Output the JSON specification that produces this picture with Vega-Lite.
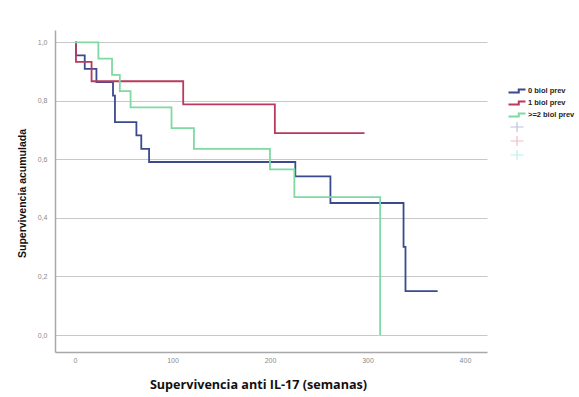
{
  "$schema": "https://vega.github.io/schema/vega-lite/v6.json",
  "width": 432,
  "height": 322,
  "autosize": {"type": "none"},
  "padding": {"left": 55, "top": 30, "right": 92, "bottom": 45},
  "background": "white",
  "config": {
    "view": {"stroke": null},
    "axis": {
      "labelFont": "Liberation Sans",
      "labelFontSize": 7,
      "labelColor": "#8a8a8a",
      "domainColor": "#a8a8a8",
      "domainWidth": 1.5,
      "ticks": false,
      "titleFont": "Liberation Sans",
      "titleFontWeight": "bold",
      "titleColor": "#111111"
    }
  },
  "datasets": {
    "curves": [
      {"grupo": "0 biol prev", "semanas": 0, "supervivencia": 1.0},
      {"grupo": "0 biol prev", "semanas": 1, "supervivencia": 0.955},
      {"grupo": "0 biol prev", "semanas": 10, "supervivencia": 0.909},
      {"grupo": "0 biol prev", "semanas": 22, "supervivencia": 0.864},
      {"grupo": "0 biol prev", "semanas": 39, "supervivencia": 0.818},
      {"grupo": "0 biol prev", "semanas": 41, "supervivencia": 0.727},
      {"grupo": "0 biol prev", "semanas": 63, "supervivencia": 0.682},
      {"grupo": "0 biol prev", "semanas": 68, "supervivencia": 0.636},
      {"grupo": "0 biol prev", "semanas": 76, "supervivencia": 0.591},
      {"grupo": "0 biol prev", "semanas": 226, "supervivencia": 0.542},
      {"grupo": "0 biol prev", "semanas": 262, "supervivencia": 0.451},
      {"grupo": "0 biol prev", "semanas": 337, "supervivencia": 0.301},
      {"grupo": "0 biol prev", "semanas": 339, "supervivencia": 0.15},
      {"grupo": "0 biol prev", "semanas": 372, "supervivencia": 0.15},
      {"grupo": "1 biol prev", "semanas": 0, "supervivencia": 1.0},
      {"grupo": "1 biol prev", "semanas": 1, "supervivencia": 0.933},
      {"grupo": "1 biol prev", "semanas": 17, "supervivencia": 0.867},
      {"grupo": "1 biol prev", "semanas": 111, "supervivencia": 0.788},
      {"grupo": "1 biol prev", "semanas": 205, "supervivencia": 0.69},
      {"grupo": "1 biol prev", "semanas": 297, "supervivencia": 0.69},
      {"grupo": ">=2 biol prev", "semanas": 0, "supervivencia": 1.0},
      {"grupo": ">=2 biol prev", "semanas": 24, "supervivencia": 0.944},
      {"grupo": ">=2 biol prev", "semanas": 38, "supervivencia": 0.889},
      {"grupo": ">=2 biol prev", "semanas": 46, "supervivencia": 0.833},
      {"grupo": ">=2 biol prev", "semanas": 57, "supervivencia": 0.778},
      {"grupo": ">=2 biol prev", "semanas": 99, "supervivencia": 0.707},
      {"grupo": ">=2 biol prev", "semanas": 122, "supervivencia": 0.636},
      {"grupo": ">=2 biol prev", "semanas": 200, "supervivencia": 0.566},
      {"grupo": ">=2 biol prev", "semanas": 225, "supervivencia": 0.471},
      {"grupo": ">=2 biol prev", "semanas": 313, "supervivencia": 0.0}
    ],
    "censor": [
      {"censurado": "0 biol prev-censurado", "semanas": 1000, "supervivencia": 0.5},
      {"censurado": "1 biol prev-censurado", "semanas": 1000, "supervivencia": 0.5},
      {"censurado": ">=2 biol prev-censurado", "semanas": 1000, "supervivencia": 0.5}
    ]
  },
  "layer": [
    {
      "data": {"name": "curves"},
      "mark": {"type": "line", "interpolate": "step-after", "strokeWidth": 1.8},
      "encoding": {
        "x": {
          "field": "semanas",
          "type": "quantitative",
          "scale": {"domain": [-20.5, 422.6], "nice": false, "zero": false},
          "axis": {
            "values": [0, 100, 200, 300, 400],
            "grid": false,
            "labelPadding": 4,
            "title": "Supervivencia anti IL-17 (semanas)",
            "titleFont": "Open Sans",
            "titleFontSize": 12.6,
            "titlePadding": 15,
            "titleX": 203
          }
        },
        "y": {
          "field": "supervivencia",
          "type": "quantitative",
          "scale": {"domain": [-0.058, 1.042], "nice": false, "zero": false},
          "axis": {
            "values": [0, 0.2, 0.4, 0.6, 0.8, 1.0],
            "labelExpr": "replace(format(datum.value, '.1f'), '.', ',')",
            "grid": true,
            "gridColor": "#c8c8c8",
            "gridWidth": 1,
            "labelPadding": 8,
            "title": "Supervivencia acumulada",
            "titleFontSize": 10.5,
            "titlePadding": 10,
            "titleY": 163
          }
        },
        "stroke": {
          "field": "grupo",
          "type": "nominal",
          "scale": {
            "domain": ["0 biol prev", "1 biol prev", ">=2 biol prev"],
            "range": ["#3b4a8e", "#b83a5e", "#7fd9a2"]
          },
          "legend": {
            "title": null,
            "orient": "none",
            "legendX": 456,
            "legendY": 55,
            "symbolType": "M-1.7,0.28L0.35,0.28L0.35,-0.28L1.7,-0.28",
            "symbolSize": 100,
            "symbolStrokeWidth": 2,
            "symbolFillColor": "transparent",
            "labelFont": "Liberation Sans",
            "labelFontWeight": "bold",
            "labelFontSize": 7.5,
            "labelColor": "#222222",
            "labelOffset": 5,
            "rowPadding": 0
          }
        }
      }
    },
    {
      "data": {"name": "censor"},
      "mark": {"type": "point", "clip": true, "filled": false, "shape": "M-1.3,0L1.3,0M0,-1L0,1"},
      "encoding": {
        "x": {"field": "semanas", "type": "quantitative"},
        "y": {"field": "supervivencia", "type": "quantitative"},
        "color": {
          "field": "censurado",
          "type": "nominal",
          "scale": {
            "domain": ["0 biol prev-censurado", "1 biol prev-censurado", ">=2 biol prev-censurado"],
            "range": ["#a3a8cf", "#ee9fb3", "#a3ece2"]
          },
          "legend": {
            "title": null,
            "orient": "none",
            "legendX": 456,
            "legendY": 91,
            "symbolType": "M-1.3,0L1.3,0M0,-1L0,1",
            "symbolSize": 100,
            "symbolStrokeWidth": 1.2,
            "labelExpr": "''",
            "labelFontSize": 1,
            "labelLimit": 1,
            "rowPadding": -8
          }
        }
      }
    }
  ]
}
